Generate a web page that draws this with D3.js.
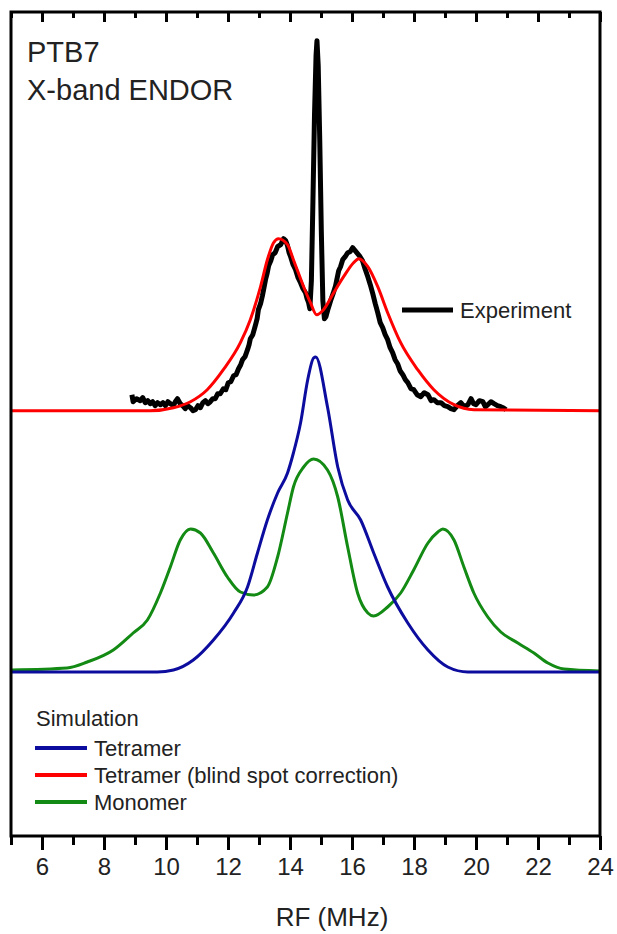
<!DOCTYPE html>
<html>
<head>
<meta charset="utf-8">
<script src="https://cdn.jsdelivr.net/npm/d3@7"></script>
<style>
  body { margin: 0; background: #fff; }
  svg text { font-family: "Liberation Sans", Arial, sans-serif; fill: #222; }
</style>
</head>
<body>
<div id="chart"></div>
<script>
// ENDOR spectra: [RF in MHz, intensity (a.u.)]

// experiment, measured relative to its own (raised) baseline
const experiment = [
  [8.90,0.16],[8.94,0.09],[9.05,0.12],[9.17,0.10],[9.25,0.13],[9.33,0.08],[9.41,0.10],[9.49,0.07],
  [9.57,0.09],[9.65,0.05],[9.73,0.08],[9.82,0.06],[9.90,0.08],[9.98,0.05],[10.06,0.09],[10.14,0.07],
  [10.24,0.05],[10.30,0.09],[10.37,0.12],[10.46,0.07],[10.54,0.05],[10.62,0.02],[10.70,0.05],[10.79,0.03],
  [10.87,0.00],[10.95,0.01],[11.03,0.05],[11.11,0.03],[11.19,0.08],[11.27,0.10],[11.35,0.07],[11.43,0.09],
  [11.51,0.12],[11.59,0.12],[11.67,0.17],[11.75,0.17],[11.85,0.22],[11.93,0.21],[12.01,0.28],[12.09,0.29],
  [12.18,0.35],[12.26,0.36],[12.34,0.42],[12.41,0.46],[12.47,0.51],[12.55,0.54],[12.63,0.61],[12.68,0.66],
  [12.72,0.72],[12.80,0.76],[12.89,0.86],[12.94,0.92],[12.98,1.01],[13.05,1.07],[13.11,1.15],[13.16,1.23],
  [13.21,1.31],[13.26,1.37],[13.31,1.45],[13.38,1.50],[13.44,1.56],[13.52,1.58],[13.60,1.64],[13.70,1.66],
  [13.79,1.72],[13.86,1.70],[13.92,1.65],[13.97,1.58],[14.02,1.54],[14.10,1.46],[14.18,1.41],[14.26,1.33],
  [14.34,1.28],[14.42,1.22],[14.50,1.18],[14.55,1.12],[14.60,1.08],[14.64,1.02],[14.69,1.30],[14.74,2.10],
  [14.79,2.95],[14.84,3.55],[14.87,3.70],[14.91,3.45],[14.96,2.70],[15.01,1.80],[15.06,1.10],[15.11,0.92],
  [15.16,0.94],[15.23,1.02],[15.31,1.10],[15.39,1.17],[15.47,1.25],[15.57,1.40],[15.63,1.44],[15.70,1.51],
  [15.78,1.54],[15.86,1.58],[15.94,1.59],[16.02,1.63],[16.10,1.60],[16.18,1.57],[16.26,1.54],[16.34,1.50],
  [16.42,1.42],[16.51,1.34],[16.59,1.26],[16.67,1.17],[16.75,1.07],[16.83,0.98],[16.91,0.88],[16.99,0.83],
  [17.07,0.76],[17.15,0.71],[17.23,0.63],[17.31,0.58],[17.39,0.51],[17.47,0.47],[17.55,0.40],[17.64,0.36],
  [17.72,0.31],[17.80,0.28],[17.90,0.22],[17.99,0.21],[18.10,0.16],[18.22,0.14],[18.33,0.18],[18.45,0.16],
  [18.55,0.10],[18.64,0.11],[18.75,0.08],[18.87,0.08],[18.98,0.05],[19.09,0.04],[19.19,0.02],[19.29,0.01],
  [19.40,0.05],[19.51,0.08],[19.62,0.04],[19.74,0.06],[19.84,0.12],[19.92,0.07],[20.00,0.06],[20.11,0.10],
  [20.22,0.09],[20.30,0.04],[20.38,0.06],[20.48,0.09],[20.58,0.07],[20.69,0.05],[20.80,0.04],[20.88,0.03],
  [20.97,0.01]
];

// tetramer with blind spot correction, same raised baseline as the experiment
const tetramerBlind = [
  [5.00,0],[9.49,0],[10.24,0.03],[10.79,0.09],[11.33,0.21],[11.85,0.41],[12.40,0.68],[12.72,0.91],
  [13.05,1.24],[13.27,1.51],[13.47,1.68],[13.63,1.72],[13.92,1.66],[14.11,1.51],[14.44,1.24],[14.66,1.08],
  [14.86,0.96],[15.08,1.01],[15.41,1.18],[15.73,1.34],[16.05,1.48],[16.22,1.52],[16.51,1.44],[16.83,1.24],
  [17.15,0.98],[17.57,0.68],[18.12,0.41],[18.64,0.21],[19.29,0.06],[19.93,0.01],[24.00,0]
];

// simulations on the lower baseline
const tetramer = [
  [5.00,0],[9.72,0],[10.24,0.02],[10.88,0.12],[11.53,0.32],[12.18,0.59],[12.63,0.85],[12.95,1.19],
  [13.27,1.52],[13.60,1.79],[13.92,1.99],[14.11,2.19],[14.34,2.49],[14.57,2.92],[14.76,3.14],[14.83,3.15],
  [15.21,2.65],[15.54,2.05],[15.86,1.72],[16.28,1.52],[16.70,1.19],[17.15,0.85],[17.80,0.49],[18.45,0.22],
  [19.09,0.05],[19.74,0],[24.00,0]
];

const monomer = [
  [5.03,0.02],[6.81,0.04],[7.46,0.10],[8.30,0.22],[8.94,0.39],[9.40,0.52],[9.82,0.79],[10.14,1.05],
  [10.46,1.32],[10.79,1.43],[11.11,1.39],[11.53,1.19],[11.98,0.95],[12.40,0.80],[12.82,0.77],[13.27,0.85],
  [13.60,1.15],[13.92,1.59],[14.11,1.85],[14.44,2.05],[14.76,2.13],[15.21,2.02],[15.54,1.75],[15.86,1.25],
  [16.18,0.79],[16.51,0.59],[16.70,0.56],[17.15,0.65],[17.57,0.79],[17.99,1.02],[18.45,1.29],[18.77,1.40],
  [18.93,1.43],[19.29,1.32],[19.61,1.05],[19.93,0.79],[20.38,0.55],[20.80,0.40],[21.35,0.29],[21.87,0.19],
  [22.32,0.09],[22.84,0.03],[24.00,0.01]
];

const majorTicks = [6, 8, 10, 12, 14, 16, 18, 20, 22, 24];
const minorTicks = [5, 7, 9, 11, 13, 15, 17, 19, 21, 23];
const legendNames = ["Tetramer", "Tetramer (blind spot correction)", "Monomer"];

const expOffset = 2.613;  // vertical shift of the upper pair of traces

const width = 617, height = 934;
const margin = {top: 12, right: 17, bottom: 98, left: 11};

const svg = d3.select("#chart")
  .append("svg")
  .attr("width", width)
  .attr("height", height);

const xScale = d3.scaleLinear()
  .domain([5, 24])
  .range([margin.left, width - margin.right]);

const yScale = d3.scaleLinear()
  .domain([-1.64, 6.60])
  .range([height - margin.bottom, margin.top]);

svg.append("clipPath").attr("id", "plot-clip")
  .append("rect")
  .attr("x", margin.left).attr("y", margin.top)
  .attr("width", width - margin.left - margin.right)
  .attr("height", height - margin.top - margin.bottom);

const plot = svg.append("g").attr("clip-path", "url(#plot-clip)");

const smooth = (off) => d3.line()
  .x(d => xScale(d[0]))
  .y(d => yScale(d[1] + off))
  .curve(d3.curveMonotoneX);

const rough = d3.line()
  .x(d => xScale(d[0]))
  .y(d => yScale(d[1] + expOffset));

plot.append("path").datum(monomer)
  .attr("d", smooth(0))
  .attr("fill", "none").attr("stroke", "#138a13").attr("stroke-width", 3);

plot.append("path").datum(tetramer)
  .attr("d", smooth(0))
  .attr("fill", "none").attr("stroke", "#0c0c9e").attr("stroke-width", 3);

plot.append("path").datum(experiment)
  .attr("d", rough)
  .attr("fill", "none").attr("stroke", "#000").attr("stroke-width", 5)
  .attr("stroke-linejoin", "round");

plot.append("path").datum(tetramerBlind)
  .attr("d", smooth(expOffset))
  .attr("fill", "none").attr("stroke", "#ff0000").attr("stroke-width", 3);

// axes: outward ticks on the bottom, inward ticks on top
const yBottom = height - margin.bottom;

const styleAxis = (g) => {
  g.select(".domain").remove();
  g.selectAll(".tick line").attr("stroke", "#000").attr("stroke-width", 3);
};

svg.append("g")
  .attr("transform", `translate(0,${yBottom})`)
  .call(d3.axisBottom(xScale).tickValues(minorTicks).tickSize(9).tickFormat(""))
  .call(styleAxis);

svg.append("g")
  .attr("transform", `translate(0,${yBottom})`)
  .call(d3.axisBottom(xScale).tickValues(majorTicks).tickSize(14).tickPadding(8).tickFormat(d3.format("d")))
  .call(styleAxis)
  .call(g => g.selectAll(".tick text")
    .attr("font-size", "24px")
    .attr("fill", "#222")
    .attr("font-family", "Liberation Sans, Arial, sans-serif"));

svg.append("g")
  .attr("transform", `translate(0,${margin.top})`)
  .call(d3.axisTop(xScale).tickValues(minorTicks).tickSize(-6).tickFormat(""))
  .call(styleAxis);

svg.append("g")
  .attr("transform", `translate(0,${margin.top})`)
  .call(d3.axisTop(xScale).tickValues(majorTicks).tickSize(-10).tickFormat(""))
  .call(styleAxis);

// frame
svg.append("rect")
  .attr("x", margin.left).attr("y", margin.top)
  .attr("width", width - margin.left - margin.right)
  .attr("height", height - margin.top - margin.bottom)
  .attr("fill", "none").attr("stroke", "#000").attr("stroke-width", 3);

svg.append("text")
  .attr("x", 332).attr("y", 926)
  .attr("text-anchor", "middle")
  .attr("font-size", "26px")
  .text("RF (MHz)");

// sample label
svg.append("text").attr("x", 27).attr("y", 62).attr("font-size", "29px").text("PTB7");
svg.append("text").attr("x", 27).attr("y", 100).attr("font-size", "29px").text("X-band ENDOR");

// experiment legend entry
svg.append("line")
  .attr("x1", 402).attr("x2", 453).attr("y1", 310).attr("y2", 310)
  .attr("stroke", "#000").attr("stroke-width", 5);
svg.append("text").attr("x", 460).attr("y", 318).attr("font-size", "22px").text("Experiment");

// simulation legend
const legendColors = ["#0c0c9e", "#ff0000", "#138a13"];
svg.append("text").attr("x", 36).attr("y", 726).attr("font-size", "22px").text("Simulation");

const legend = svg.selectAll(".leg")
  .data(legendNames)
  .enter()
  .append("g")
  .attr("class", "leg")
  .attr("transform", (d, i) => `translate(35,${748 + i * 27})`);

legend.append("line")
  .attr("x1", 0).attr("x2", 52)
  .attr("stroke", (d, i) => legendColors[i])
  .attr("stroke-width", 4);

legend.append("text")
  .attr("x", 59).attr("y", 8)
  .attr("font-size", "22px")
  .text(d => d);
</script>
</body>
</html>
